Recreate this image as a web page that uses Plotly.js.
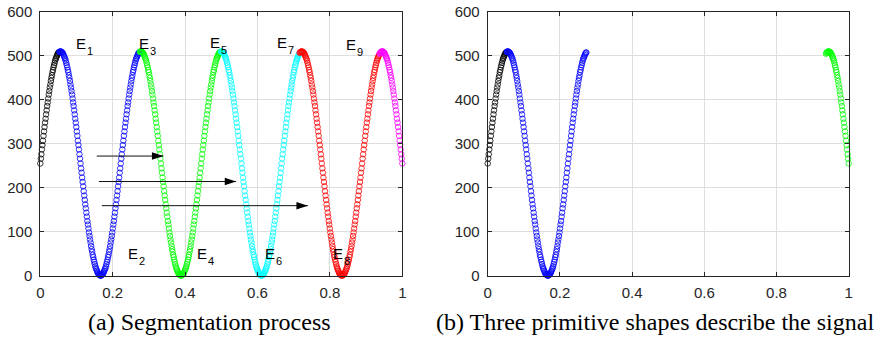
<!DOCTYPE html>
<html>
<head>
<meta charset="utf-8">
<script src="https://cdn.plot.ly/plotly-3.0.1.min.js"></script>
<style>
  html, body { margin: 0; padding: 0; background: #fff; }
  #chart { width: 875px; height: 341px; }
</style>
</head>
<body>
<div id="chart"></div>
<script>
// Signal samples over normalised time 0..1, split into the segments found by the segmentation.
const sampleCount = 685;
// Index of the first sample of each segment (black, blue, green, cyan, red, magenta).
const segmentStart = [0, 36, 188, 341, 490, 641];

const segBlack = [255,266,276,287,297,307,318,328,338,348,357,367,376,386,394,403,412,420,428,435,443,450,456,463,468,474,479,484,489,493,496,499,502,505,507,508];

const segBlue = [509,510,510,
  510,509,508,507,505,502,499,496,493,489,484,479,474,468,463,456,450,443,435,428,420,412,403,394,386,376,367,357,348,338,328,318,307,297,287,276,266,255,
  244,234,223,213,203,192,182,172,162,153,143,134,124,116,107,98,90,82,75,67,60,54,47,42,36,31,26,21,17,14,11,8,5,3,2,1,0,0,
  0,1,2,3,5,8,11,14,17,21,26,31,36,42,47,54,60,67,75,82,90,98,107,116,124,134,143,153,162,172,182,192,203,213,223,234,244,255,
  266,276,287,297,307,318,328,338,348,357,367,376,386,394,403,412,420,428,435,443,450,456,463,468,474,479,484,489,493,496,499,502,505,507,508];

const segGreen = [509,510,510,
  510,509,508,507,505,502,499,496,493,489,484,479,474,468,463,456,450,443,435,428,420,412,403,394,386,376,367,357,348,338,328,318,307,297,287,276,266,255,
  244,234,223,213,203,192,182,172,162,153,143,134,124,116,107,98,90,82,75,67,60,54,47,42,36,31,26,21,17,14,11,8,5,3,2,1,0,0,
  0,1,2,3,5,8,11,14,17,21,26,31,36,42,47,54,60,67,75,82,90,98,107,116,124,134,143,153,162,172,182,192,203,213,223,234,244,255,
  266,276,287,297,307,318,328,338,348,357,367,376,386,394,403,412,420,428,435,443,450,456,463,468,474,479,484,489,493,496,499,502,505,507,508,509];

const segCyan = [510,510,
  510,509,508,507,505,502,499,496,493,489,484,479,474,468,463,456,450,443,435,428,420,412,403,394,386,376,367,357,348,338,328,318,307,297,287,276,266,255,
  244,234,223,213,203,192,182,172,162,153,143,134,124,116,107,98,90,82,75,67,60,54,47,42,36,31,26,21,17,14,11,8,5,3,2,1,0,0,
  0,1,2,3,5,8,11,14,17,21,26,31,36,42,47,54,60,67,75,82,90,98,107,116,124,134,143,153,162,172,182,192,203,213,223,234,244,255,
  266,276,287,297,307,318,328,338,348,357,367,376,386,394,403,412,420,428,435,443,450,456,463,468,474,479,484,489,493,496,499,502,505];

const segRed = [507,508,509,510,510,
  510,509,508,507,505,502,499,496,493,489,484,479,474,468,463,456,450,443,435,428,420,412,403,394,386,376,367,357,348,338,328,318,307,297,287,276,266,255,
  244,234,223,213,203,192,182,172,162,153,143,134,124,116,107,98,90,82,75,67,60,54,47,42,36,31,26,21,17,14,11,8,5,3,2,1,0,0,
  0,1,2,3,5,8,11,14,17,21,26,31,36,42,47,54,60,67,75,82,90,98,107,116,124,134,143,153,162,172,182,192,203,213,223,234,244,255,
  266,276,287,297,307,318,328,338,348,357,367,376,386,394,403,412,420,428,435,443,450,456,463,468,474,479,484,489,493,496,499,502];

const segMagenta = [505,507,508,509,510,510,
  510,509,508,507,505,502,499,496,493,489,484,479,474,468,463,456,450,443,435,428,420,412,403,394,386,376,367,357,348,338,328,318,307,297,287,276,266,255];

// Boundary labels E1..E9 (letter plus subscript index)
const boundaryIndex = ['1', '2', '3', '4', '5', '6', '7', '8', '9'];
const boundaryLabelX = [0.094, 0.238, 0.268, 0.427, 0.4645, 0.614, 0.649, 0.802, 0.839];
const boundaryLabelY = [529, 51, 529, 51, 531, 51, 531, 51, 526];

// Horizontal arrows: start x, end x, level
const arrowFrom = [0.156, 0.162, 0.170];
const arrowTo   = [0.340, 0.541, 0.739];
const arrowAt   = [272, 214, 159];

const xTickVals = [0, 0.2, 0.4, 0.6, 0.8, 1];
const xTickText = ['0', '0.2', '0.4', '0.6', '0.8', '1'];
const yTickVals = [0, 100, 200, 300, 400, 500, 600];

const captions = ['(a) Segmentation process', '(b) Three primitive shapes describe the signal'];

function timeOf(startIdx, values) {
  return values.map((_, j) => (startIdx + j) / (sampleCount - 1));
}

function seg(values, startIdx, color, xa, ya) {
  return {
    type: 'scatter', mode: 'markers',
    x: timeOf(startIdx, values), y: values,
    xaxis: xa, yaxis: ya,
    cliponaxis: false,
    marker: { symbol: 'circle-open', size: 5.5, color: color, line: { width: 0.8, color: color } },
    hoverinfo: 'skip', showlegend: false
  };
}

const traces = [
  seg(segBlack,   segmentStart[0], '#000000', 'x', 'y'),
  seg(segBlue,    segmentStart[1], '#0000ff', 'x', 'y'),
  seg(segGreen,   segmentStart[2], '#00ff00', 'x', 'y'),
  seg(segCyan,    segmentStart[3], '#00ffff', 'x', 'y'),
  seg(segRed,     segmentStart[4], '#ff0000', 'x', 'y'),
  seg(segMagenta, segmentStart[5], '#ff00ff', 'x', 'y'),
  seg(segBlack,   segmentStart[0], '#000000', 'x2', 'y2'),
  seg(segBlue,    segmentStart[1], '#0000ff', 'x2', 'y2'),
  seg(segMagenta, segmentStart[5], '#00ff00', 'x2', 'y2')
];

// Arrow shafts and heads
arrowFrom.forEach((x0, i) => {
  traces.push({
    type: 'scatter', mode: 'lines', xaxis: 'x', yaxis: 'y',
    x: [x0, arrowTo[i]], y: [arrowAt[i], arrowAt[i]],
    line: { color: '#111', width: 1 },
    hoverinfo: 'skip', showlegend: false
  });
});
traces.push({
  type: 'scatter', mode: 'markers', xaxis: 'x', yaxis: 'y',
  x: arrowTo, y: arrowAt,
  marker: { symbol: 'arrow', angle: 90, size: 12, color: '#000', line: { width: 0 } },
  hoverinfo: 'skip', showlegend: false
});

const W = 875, H = 341;
const axisColor = '#262626';
const sansFamily = 'Liberation Sans, Arial, sans-serif';
const tickFont = { family: sansFamily, size: 15, color: axisColor };

function xAxis(domain, anchor) {
  return {
    domain: domain, anchor: anchor, range: [0, 1], fixedrange: true,
    tickvals: xTickVals, ticktext: xTickText,
    showgrid: true, gridcolor: '#dedede', gridwidth: 1, zeroline: false,
    showline: true, linecolor: axisColor, linewidth: 1, mirror: 'ticks',
    ticks: 'inside', ticklen: 4, tickcolor: axisColor, tickwidth: 1,
    tickfont: tickFont, ticklabelstandoff: 3
  };
}
function yAxis(domain, anchor) {
  return {
    domain: domain, anchor: anchor, range: [0, 600], fixedrange: true,
    tickvals: yTickVals,
    showgrid: true, gridcolor: '#dedede', gridwidth: 1, zeroline: false,
    showline: true, linecolor: axisColor, linewidth: 1, mirror: 'ticks',
    ticks: 'inside', ticklen: 4, tickcolor: axisColor, tickwidth: 1,
    tickfont: tickFont, ticklabelstandoff: 4
  };
}

const yDom = [1 - 275.5 / H, 1 - 12 / H];

const annotations = [];
boundaryIndex.forEach((n, i) => {
  annotations.push({
    xref: 'x', yref: 'y', x: boundaryLabelX[i], y: boundaryLabelY[i],
    xanchor: 'left', yanchor: 'middle', text: 'E', showarrow: false,
    font: { family: sansFamily, size: 15, color: '#000' }
  });
  annotations.push({
    xref: 'x', yref: 'y', x: boundaryLabelX[i], y: boundaryLabelY[i],
    xshift: 11, yshift: -8,
    xanchor: 'left', yanchor: 'middle', text: n, showarrow: false,
    font: { family: sansFamily, size: 11, color: '#000' }
  });
});
const captionX = [209 / W, 654.5 / W];
captions.forEach((t, i) => {
  annotations.push({
    xref: 'paper', yref: 'paper', x: captionX[i], y: 1 - 322 / H,
    xanchor: 'center', yanchor: 'middle', text: t, showarrow: false,
    font: { family: 'Liberation Serif, Times New Roman, serif', size: 24, color: '#000' }
  });
});

const layout = {
  width: W, height: H,
  margin: { l: 0, r: 0, t: 0, b: 0 },
  paper_bgcolor: '#fff', plot_bgcolor: '#fff',
  showlegend: false,
  xaxis: xAxis([40.3 / W, 402.3 / W], 'y'),
  yaxis: yAxis(yDom, 'x'),
  xaxis2: xAxis([487.7 / W, 848.7 / W], 'y2'),
  yaxis2: yAxis(yDom, 'x2'),
  annotations: annotations
};

Plotly.newPlot('chart', traces, layout, { staticPlot: true, displayModeBar: false });
</script>
</body>
</html>
